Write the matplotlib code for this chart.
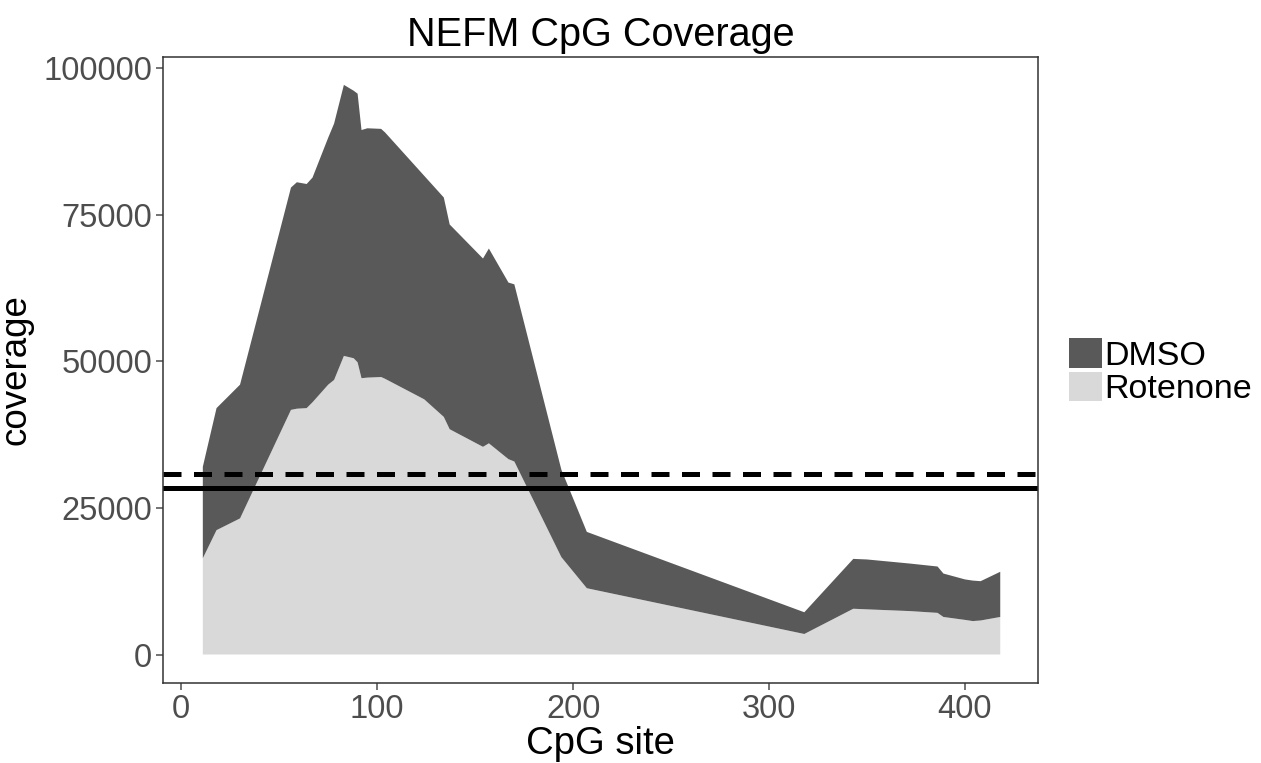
import numpy as np
import matplotlib.pyplot as plt
from matplotlib.patches import Patch

plt.rcParams['font.family'] = ['Liberation Sans', 'DejaVu Sans']

# CpG site positions and stacked coverage
cpg_site = [11, 18, 30, 56, 59, 64, 67, 75, 78, 83, 88, 90, 92, 95, 102, 104,
            124, 134, 137, 154, 157, 167, 170, 194, 207, 318, 343, 350, 372,
            386, 389, 400, 404, 408, 418]
rotenone = [16400, 21200, 23200, 41700, 41900, 42000, 43000, 46000, 46800,
            50900, 50500, 49800, 47100, 47200, 47300, 47000, 43500, 40500,
            38400, 35400, 36000, 33300, 32900, 16600, 11300, 3500, 7800,
            7700, 7400, 7100, 6400, 5900, 5700, 5800, 6400]
dmso = [15600, 20800, 22800, 37900, 38600, 38200, 38300, 42100, 43700,
        46200, 45600, 45800, 42300, 42500, 42300, 42000, 38100, 37400,
        34900, 32100, 33200, 30100, 30200, 14900, 9600, 3700, 8500, 8500,
        8100, 7900, 7400, 6900, 6900, 6700, 7700]
mean_solid = 28450
mean_dashed = 30850

col_dmso = '#595959'
col_rot = '#d9d9d9'

fig = plt.figure(figsize=(12.61, 7.63), dpi=100)
ax = fig.add_axes([0.1293, 0.1049, 0.6939, 0.8204])

x = np.array(cpg_site)
ax.stackplot(x, rotenone, dmso, colors=[col_rot, col_dmso], linewidth=0)
ax.axhline(mean_solid, color='black', lw=3.6)
ax.axhline(mean_dashed, color='black', lw=3.6, ls=(0, (3.6, 2.5)))

ax.set_xlim(-9.3, 437.3)
ax.set_ylim(-4850, 101850)
ax.set_xticks([0, 100, 200, 300, 400])
ax.set_yticks([0, 25000, 50000, 75000, 100000])
ax.tick_params(labelsize=23.5, colors='#4d4d4d', length=5, width=1.1, pad=3)
for s in ax.spines.values():
    s.set_color('#333333')
    s.set_linewidth(1.1)

ax.set_title('NEFM CpG Coverage', fontsize=28.5, pad=8)
ax.set_xlabel('CpG site', fontsize=27.5, labelpad=1)
ax.set_ylabel('coverage', fontsize=26.5)
ax.yaxis.set_label_coords(-0.148, 0.5)

handles = [Patch(facecolor=col_dmso, edgecolor='none', label='DMSO'),
           Patch(facecolor=col_rot, edgecolor='none', label='Rotenone')]
fig.legend(handles=handles, loc='center left', bbox_to_anchor=(0.8345, 0.513),
           frameon=False, fontsize=24.5, handlelength=0.97, handleheight=0.95,
           handletextpad=0.05, labelspacing=0.0, borderpad=0)

fig.savefig('out.png', dpi=100)
